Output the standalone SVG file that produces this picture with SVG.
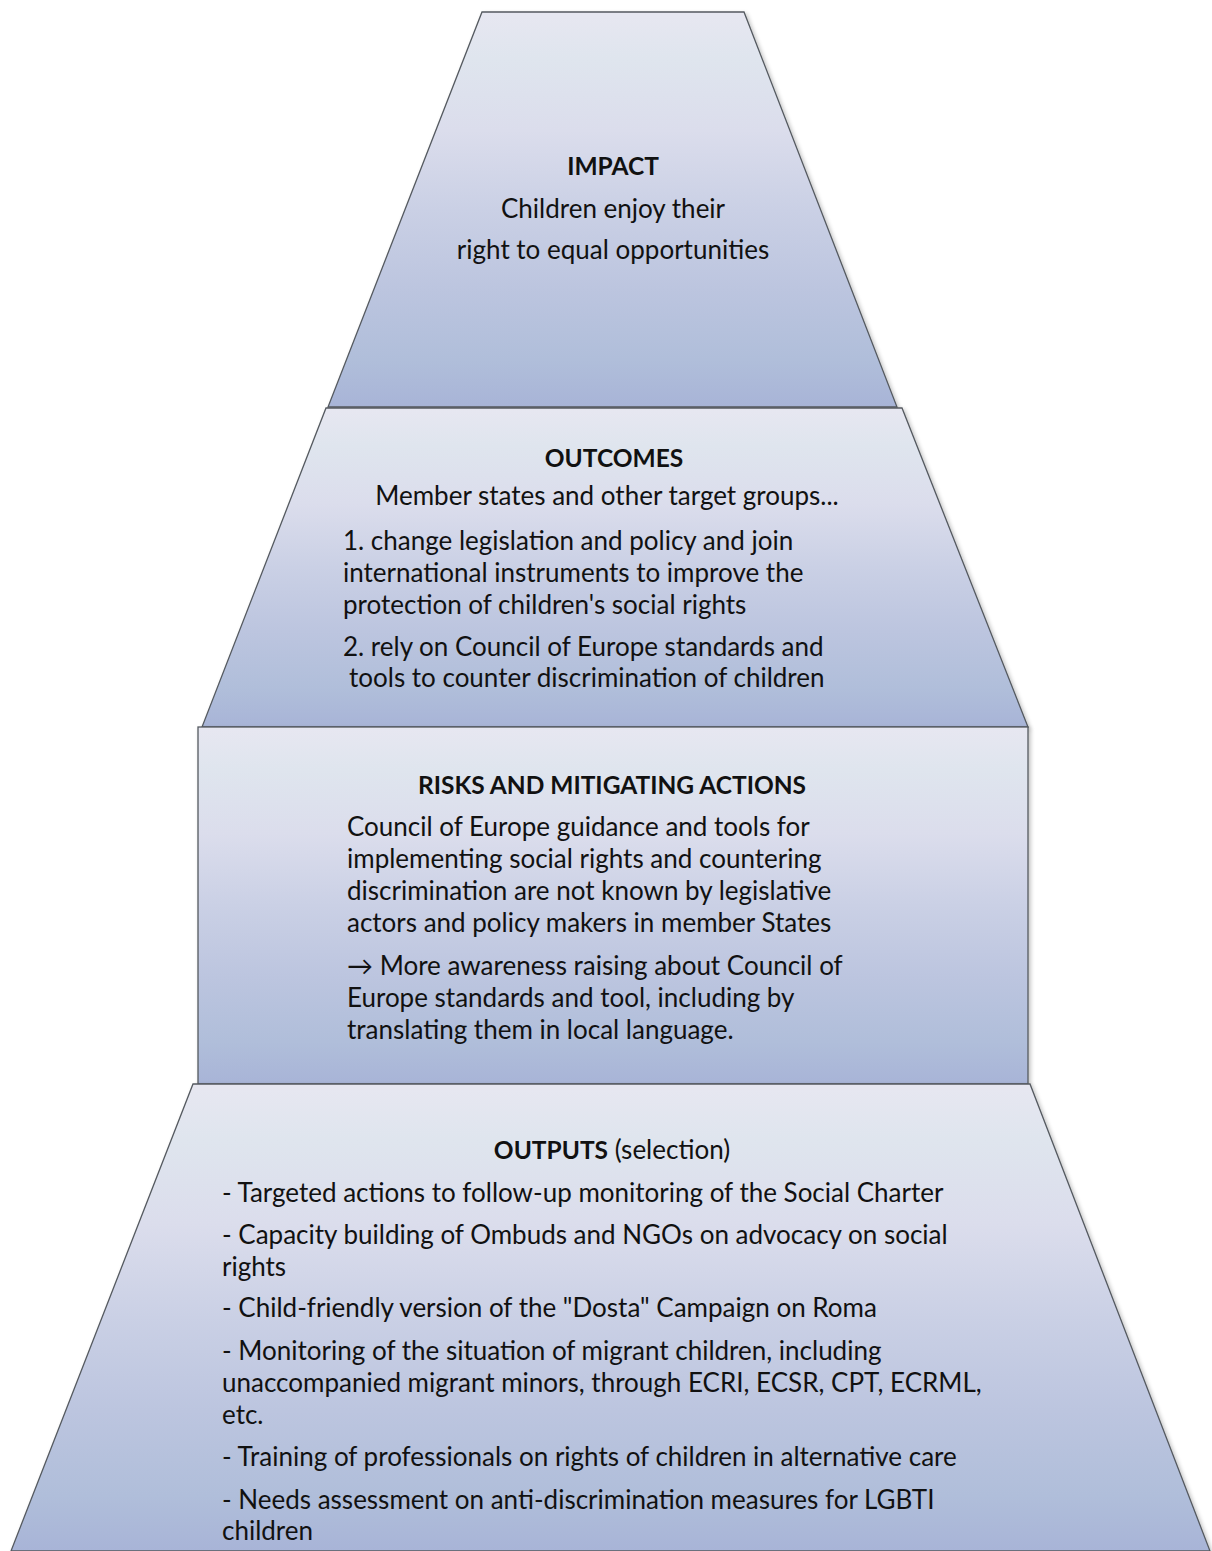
<svg xmlns="http://www.w3.org/2000/svg" width="1212" height="1551" viewBox="0 0 1212 1551">
<style>
.shape{stroke:#555a60;stroke-width:1.3;stroke-linejoin:miter}
text{font-family:Lato,"Liberation Sans",sans-serif;font-size:26px;fill:#111}
.c{text-anchor:middle}
.b{font-weight:bold;font-size:24.5px}
</style>
<defs>
<linearGradient id="g" x1="0" y1="0" x2="0" y2="1">
<stop offset="0" stop-color="#E7E7F1"/>
<stop offset="0.12" stop-color="#DFE5EE"/>
<stop offset="0.3" stop-color="#DBDDEC"/>
<stop offset="0.5" stop-color="#CAD0E5"/>
<stop offset="0.7" stop-color="#BCC5DF"/>
<stop offset="0.88" stop-color="#B0BEDA"/>
<stop offset="1" stop-color="#A8B4D7"/>
</linearGradient>
<filter id="sh" x="-5%" y="-5%" width="110%" height="110%">
<feGaussianBlur in="SourceAlpha" stdDeviation="2"/>
<feOffset dx="2" dy="2" result="o"/>
<feComponentTransfer><feFuncA type="linear" slope="0.25"/></feComponentTransfer>
<feMerge><feMergeNode/><feMergeNode in="SourceGraphic"/></feMerge>
</filter>
</defs>
<rect width="1212" height="1551" fill="#fff"/>
<g id="impact">
<polygon class="shape" fill="url(#g)" filter="url(#sh)" points="482,12 744,12 897,407 328,407"/>
<text class="c b" x="613" y="175">IMPACT</text>
<text class="c" x="613" y="218">Children enjoy their</text>
<text class="c" x="613" y="259">right to equal opportunities</text>
</g>
<g id="outcomes">
<polygon class="shape" fill="url(#g)" filter="url(#sh)" points="326,408 902,408 1028,727 202,727"/>
<text class="c b" x="614" y="467">OUTCOMES</text>
<text class="c" x="607" y="505">Member states and other target groups...</text>
<text x="343" y="550">1. change legislation and policy and join</text>
<text x="343" y="582">international instruments to improve the</text>
<text x="343" y="614">protection of children's social rights</text>
<text x="343" y="656">2. rely on Council of Europe standards and</text>
<text x="349" y="687">tools to counter discrimination of children</text>
</g>
<g id="risks">
<rect class="shape" fill="url(#g)" filter="url(#sh)" x="198" y="727" width="830" height="357"/>
<text class="c b" x="612" y="794">RISKS AND MITIGATING ACTIONS</text>
<text x="347" y="836">Council of Europe guidance and tools for</text>
<text x="347" y="868">implementing social rights and countering</text>
<text x="347" y="900">discrimination are not known by legislative</text>
<text x="347" y="932">actors and policy makers in member States</text>
<text x="347" y="975">→ More awareness raising about Council of</text>
<text x="347" y="1007">Europe standards and tool, including by</text>
<text x="347" y="1039">translating them in local language.</text>
</g>
<g id="outputs">
<polygon class="shape" fill="url(#g)" filter="url(#sh)" points="193,1084 1030,1084 1210,1551 11,1551"/>
<text class="c" x="612" y="1159"><tspan class="b">OUTPUTS</tspan> (selection)</text>
<text x="222" y="1202">- Targeted actions to follow-up monitoring of the Social Charter</text>
<text x="222" y="1244">- Capacity building of Ombuds and NGOs on advocacy on social</text>
<text x="222" y="1276">rights</text>
<text x="222" y="1317">- Child-friendly version of the "Dosta" Campaign on Roma</text>
<text x="222" y="1360">- Monitoring of the situation of migrant children, including</text>
<text x="222" y="1392">unaccompanied migrant minors, through ECRI, ECSR, CPT, ECRML,</text>
<text x="222" y="1424">etc.</text>
<text x="222" y="1466">- Training of professionals on rights of children in alternative care</text>
<text x="222" y="1509">- Needs assessment on anti-discrimination measures for LGBTI</text>
<text x="222" y="1540">children</text>
</g>
<g id="connectors"/>
</svg>
